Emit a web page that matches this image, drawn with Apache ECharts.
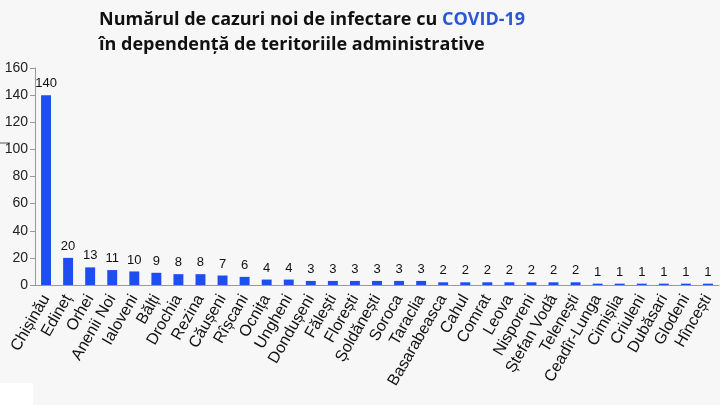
<!DOCTYPE html>
<html><head><meta charset="utf-8">
<script src="https://cdn.jsdelivr.net/npm/echarts@6/dist/echarts.min.js"></script>
<style>html,body{margin:0;padding:0;background:#f7f7f7}#c{width:720px;height:405px}</style>
</head><body><div id="c"></div>
<script>
const categories = ["Chișinău","Edineț","Orhei","Anenii Noi","Ialoveni","Bălți","Drochia","Rezina","Căușeni","Rîșcani","Ocnița","Ungheni","Dondușeni","Fălești","Florești","Șoldănești","Soroca","Taraclia","Basarabeasca","Cahul","Comrat","Leova","Nisporeni","Ștefan Vodă","Telenești","Ceadîr-Lunga","Cimișlia","Criuleni","Dubăsari","Glodeni","Hîncești"];
const values = [140,20,13,11,10,9,8,8,7,6,4,4,3,3,3,3,3,3,2,2,2,2,2,2,2,1,1,1,1,1,1];
const yTicks = [0,20,40,60,80,100,120,140,160];

const chart = echarts.init(document.getElementById('c'));
chart.setOption({
  backgroundColor:'#f7f7f7',
  animation:false,
  title:{
    left:94, top:2,
    text:'{a|Numărul de cazuri noi de infectare cu }{b|COVID-19}\n{a|în dependență de teritoriile administrative}',
    textStyle:{
      rich:{
        a:{fontFamily:'Open Sans',fontWeight:'bold',fontSize:18,color:'#111',lineHeight:25},
        b:{fontFamily:'Open Sans',fontWeight:'bold',fontSize:18,color:'#2a56d8',lineHeight:25}
      }
    }
  },
  grid:{left:35,right:1,top:68,bottom:120,containLabel:false},
  xAxis:{
    type:'category', data:categories,
    axisLine:{lineStyle:{color:'#999'}},
    axisTick:{lineStyle:{color:'#999'},length:5},
    axisLabel:{rotate:60,interval:0,fontFamily:'Liberation Sans',fontSize:16,color:'#111',margin:11}
  },
  yAxis:{
    type:'value', min:yTicks[0], max:yTicks[yTicks.length-1], interval:20,
    axisLine:{show:true,lineStyle:{color:'#999'}},
    axisTick:{show:true,lineStyle:{color:'#999'},length:5},
    splitLine:{show:false},
    axisLabel:{fontFamily:'Liberation Sans',fontSize:14,color:'#222',margin:7}
  },
  series:[{
    type:'bar', data:values, barWidth:'45%',
    itemStyle:{color:'#1f4ef0'},
    label:{show:true,position:'top',fontFamily:'Liberation Sans',fontSize:13,color:'#111',distance:5}
  }],
  graphic:[
    {type:'rect',shape:{x:0,y:383,width:33,height:22},style:{fill:'#ffffff'}},
    {type:'line',shape:{x1:0,y1:143,x2:10,y2:143},style:{stroke:'#555',lineWidth:1}}
  ]
});
</script></body></html>
